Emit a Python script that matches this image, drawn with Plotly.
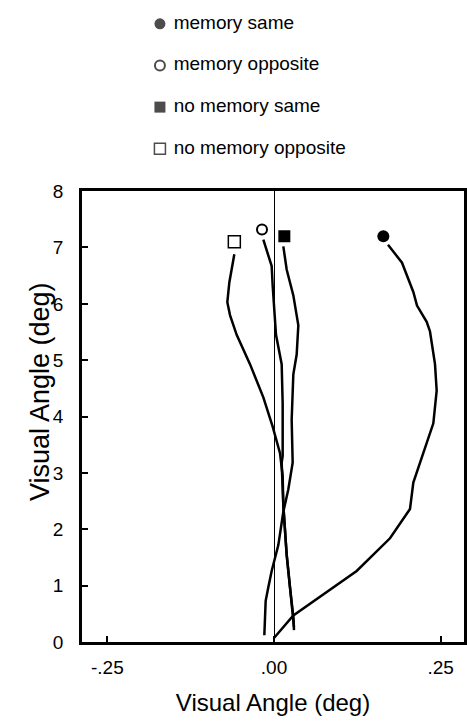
import plotly.graph_objects as go

# ---- data (visual angle, deg) ----
mem_same_y = [7.05, 6.73, 6.21, 5.97, 5.68, 5.51, 4.93, 4.46, 3.88, 3.35, 3.18, 2.83, 2.36, 1.84, 1.26, 0.85, 0.47, 0.07]
mem_same_x = [0.171, 0.192, 0.209, 0.2145, 0.229, 0.234, 0.2415, 0.244, 0.239, 0.224, 0.219, 0.209, 0.204, 0.174, 0.124, 0.074, 0.029, 0.0]

mem_opp_y = [7.14, 6.67, 6.32, 5.97, 5.62, 5.45, 4.93, 4.23, 3.30, 3.18, 2.42, 1.55, 0.97, 0.44, 0.27]
mem_opp_x = [-0.016, -0.0035, -0.002, 0.0, 0.0015, 0.003, 0.0115, 0.013, 0.013, 0.0115, 0.014, 0.019, 0.024, 0.029, 0.030]

nomem_same_y = [7.02, 6.61, 6.15, 5.68, 5.62, 5.10, 4.75, 3.94, 3.18, 2.71, 2.31, 1.72, 1.26, 0.97, 0.73, 0.12]
nomem_same_x = [0.014, 0.019, 0.029, 0.0365, 0.0365, 0.034, 0.029, 0.0265, 0.028, 0.0215, 0.014, 0.0065, -0.0035, -0.0085, -0.0125, -0.0145]

nomem_opp_y = [6.88, 6.61, 6.38, 6.03, 5.80, 5.45, 4.93, 4.34, 3.82, 3.35, 2.95, 2.42, 1.55, 0.97, 0.44, 0.21]
nomem_opp_x = [-0.0595, -0.0635, -0.067, -0.070, -0.066, -0.056, -0.036, -0.016, -0.002, 0.009, 0.013, 0.014, 0.019, 0.024, 0.029, 0.030]

# end-point markers
marker_x = [0.164, -0.018, 0.0155, -0.0595]
marker_y = [7.20, 7.32, 7.20, 7.10]

series_names = ["memory same", "memory opposite", "no memory same", "no memory opposite"]
curves_x = [mem_same_x, mem_opp_x, nomem_same_x, nomem_opp_x]
curves_y = [mem_same_y, mem_opp_y, nomem_same_y, nomem_opp_y]

x_tickvals = [-0.25, 0.0, 0.25]
x_ticktext = ["-.25", ".00", ".25"]
y_tickvals = [0, 1, 2, 3, 4, 5, 6, 7, 8]
axis_title = "Visual Angle (deg)"

# styles
sym = ["circle", "circle-open", "square", "square-open"]
sym_size = [12, 10, 12, 12]
sym_line = [0, 2, 0, 1.5]
legend_size = [11, 10, 11, 11]
key_marker_pos = 0.204   # paper fraction for key symbols
key_text_pos = 0.240     # paper fraction where key text starts

fig = go.Figure()
for cx, cy in zip(curves_x, curves_y):
    fig.add_trace(go.Scatter(x=cx, y=cy, mode="lines", line=dict(color="black", width=2.5),
                             showlegend=False, hoverinfo="skip"))
for i, name in enumerate(series_names):
    fig.add_trace(go.Scatter(x=[marker_x[i]], y=[marker_y[i]], mode="markers", name=name,
                             marker=dict(symbol=sym[i], size=sym_size[i], color="black",
                                         line=dict(width=sym_line[i], color="black")),
                             showlegend=False))

# key drawn on its own small axes above the plot
fig.add_trace(go.Scatter(
    x=[key_marker_pos] * len(series_names), y=series_names, mode="markers",
    marker=dict(symbol=sym, size=legend_size, color="black",
                line=dict(width=sym_line, color="black")),
    xaxis="x2", yaxis="y2", showlegend=False, hoverinfo="skip", cliponaxis=False))
fig.add_trace(go.Scatter(
    x=[key_text_pos] * len(series_names), y=series_names, mode="text",
    text=series_names, textposition="middle right",
    textfont=dict(size=19, color="black"),
    xaxis="x2", yaxis="y2", showlegend=False, hoverinfo="skip", cliponaxis=False))

fig.update_layout(
    width=467, height=722,
    margin=dict(l=82, r=3, t=0, b=80),
    plot_bgcolor="white", paper_bgcolor="white",
    font=dict(family="Liberation Sans, Arial, sans-serif", color="black", size=18),
    showlegend=False,
    xaxis=dict(range=[-0.288, 0.285], tickvals=x_tickvals, ticktext=x_ticktext,
               ticks="inside", ticklen=6, tickwidth=2, tickcolor="black",
               showline=True, linewidth=2.5, linecolor="black", mirror=True,
               showgrid=False, zeroline=True, zerolinecolor="black", zerolinewidth=1,
               tickfont=dict(size=19), ticklabelstandoff=6,
               title=dict(text=axis_title, font=dict(size=24), standoff=18)),
    yaxis=dict(range=[0, 8], tickvals=y_tickvals, domain=[0, 0.7134],
               ticks="inside", ticklen=6, tickwidth=2, tickcolor="black",
               showline=True, linewidth=2.5, linecolor="black", mirror=True,
               showgrid=False, zeroline=False,
               tickfont=dict(size=19), ticklabelstandoff=12),
    xaxis2=dict(domain=[0, 1], range=[0, 1], anchor="y2", visible=False),
    yaxis2=dict(domain=[0.7259, 1.0], anchor="x2", type="category",
                categoryorder="array", categoryarray=series_names,
                range=[3.827, -0.331], visible=False),
    annotations=[dict(text=axis_title, textangle=-90, xref="paper", yref="paper",
                      x=-0.110, y=0.397, xanchor="center", yanchor="middle",
                      showarrow=False, font=dict(size=27))],
)

fig.write_html("out.html", config={"displayModeBar": False},
               post_script="document.body.style.margin='0';document.body.style.overflow='hidden';")
